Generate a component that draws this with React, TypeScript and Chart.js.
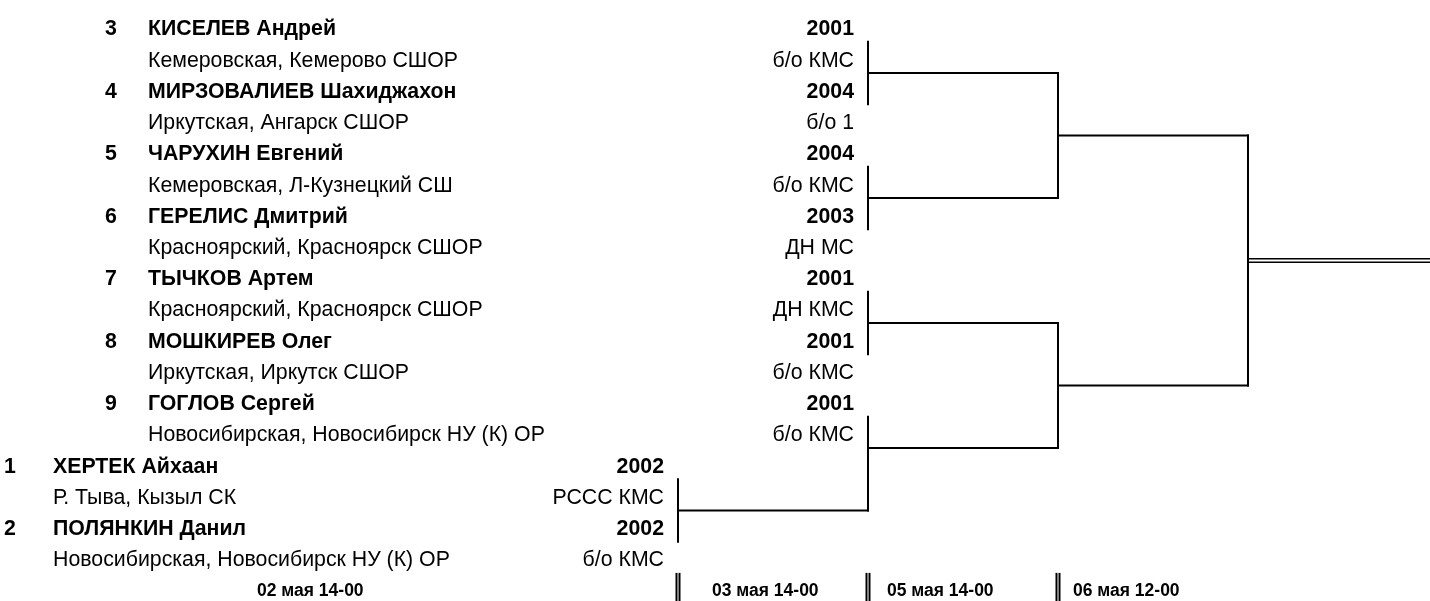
import React, { useEffect, useRef } from "react";
import { Chart, registerables } from "chart.js";

Chart.register(...registerables);

// ---- data ----
const seeds = [3, 4, 5, 6, 7, 8, 9, 1, 2];
const names = [
  "КИСЕЛЕВ Андрей",
  "МИРЗОВАЛИЕВ Шахиджахон",
  "ЧАРУХИН Евгений",
  "ГЕРЕЛИС Дмитрий",
  "ТЫЧКОВ Артем",
  "МОШКИРЕВ Олег",
  "ГОГЛОВ Сергей",
  "ХЕРТЕК Айхаан",
  "ПОЛЯНКИН Данил",
];
const clubs = [
  "Кемеровская, Кемерово СШОР",
  "Иркутская, Ангарск СШОР",
  "Кемеровская, Л-Кузнецкий СШ",
  "Красноярский, Красноярск СШОР",
  "Красноярский, Красноярск СШОР",
  "Иркутская, Иркутск СШОР",
  "Новосибирская, Новосибирск НУ (К) ОР",
  "Р. Тыва, Кызыл СК",
  "Новосибирская, Новосибирск НУ (К) ОР",
];
const years = ["2001", "2004", "2004", "2003", "2001", "2001", "2001", "2002", "2002"];
const ranks = ["б/о КМС", "б/о 1", "б/о КМС", "ДН МС", "ДН КМС", "б/о КМС", "б/о КМС", "РССС КМС", "б/о КМС"];
const entryRounds = [1, 1, 1, 1, 1, 1, 1, 0, 0];
const roundDates = ["02 мая 14-00", "03 мая 14-00", "05 мая 14-00", "06 мая 12-00"];
// bracket: round of each bout and its two inputs (p = player index, m = bout index)
const boutRounds = [1, 1, 1, 0, 1, 2, 2, 3];
const boutA = ["p0", "p2", "p4", "p7", "p6", "m0", "m2", "m5"];
const boutB = ["p1", "p3", "p5", "p8", "m3", "m1", "m4", "m6"];

// ---- layout ----
const W = 1430;
const H = 601;
const FONT = '"Liberation Sans", Arial, sans-serif';
const MAIN_SIZE = 21.3;
const DATE_SIZE = 17.5;
const TEXT_LEFT = [53, 148];
const NUM_CENTER = [10, 111];
const DATE_LEFT = [257, 712, 887, 1073];

function buildBracket() {
  const playerRow = (i: number) => 2 * i + 0.5;
  const outs: number[] = [];
  const segs: { x: number; y: number }[][] = [];
  let finalOut = { r: 0, y: 0 };
  const resolve = (ref: string) => {
    const idx = parseInt(ref.slice(1), 10);
    return ref[0] === "p" ? playerRow(idx) : outs[idx];
  };
  boutRounds.forEach((r, m) => {
    const ya = resolve(boutA[m]);
    const yb = resolve(boutB[m]);
    const out = Math.floor((ya + yb) / 2 - 0.5) + 0.5;
    outs.push(out);
    segs.push([
      { x: r, y: ya },
      { x: r, y: yb },
    ]);
    if (m === boutRounds.length - 1) {
      finalOut = { r, y: out };
    } else {
      segs.push([
        { x: r, y: out },
        { x: r + 1, y: out },
      ]);
    }
  });
  return { segs, finalOut };
}

export default function App() {
  const ref = useRef<HTMLCanvasElement | null>(null);

  useEffect(() => {
    document.body.style.margin = "0";
    const canvas = ref.current;
    if (!canvas) return;
    const { segs, finalOut } = buildBracket();

    const textPlugin = {
      id: "bracketText",
      afterDatasetsDraw(chart: any) {
        const ctx: CanvasRenderingContext2D = chart.ctx;
        const xs = chart.scales.x;
        const ys = chart.scales.y;
        const yMid = (row: number) => ys.getPixelForValue(row) + 1.5;
        ctx.save();
        ctx.fillStyle = "#000";
        ctx.strokeStyle = "#000";
        const put = (t: string, x: number, row: number, size: number, bold: boolean, align: CanvasTextAlign) => {
          ctx.font = `${bold ? "bold " : ""}${size}px ${FONT}`;
          ctx.textAlign = align;
          ctx.textBaseline = "alphabetic";
          ctx.fillText(t, x, yMid(row) + size * 0.358);
        };
        seeds.forEach((s, i) => {
          const r = entryRounds[i];
          const rightEdge = xs.getPixelForValue(r) - 14;
          put(String(s), NUM_CENTER[r], 2 * i, MAIN_SIZE, true, "center");
          put(names[i], TEXT_LEFT[r], 2 * i, MAIN_SIZE, true, "left");
          put(years[i], rightEdge, 2 * i, MAIN_SIZE, true, "right");
          put(clubs[i], TEXT_LEFT[r], 2 * i + 1, MAIN_SIZE, false, "left");
          put(ranks[i], rightEdge, 2 * i + 1, MAIN_SIZE, false, "right");
        });
        const dateRow = 2 * seeds.length;
        roundDates.forEach((d, k) => {
          put(d, DATE_LEFT[k], dateRow, DATE_SIZE, true, "left");
        });
        // double markers between date columns
        ctx.lineWidth = 2;
        for (let r = 0; r < roundDates.length - 1; r++) {
          const px = Math.round(xs.getPixelForValue(r));
          const top = ys.getPixelForValue(dateRow - 0.5);
          [px - 1.5, px + 1.5].forEach((x) => {
            ctx.beginPath();
            ctx.moveTo(x, top);
            ctx.lineTo(x, H);
            ctx.stroke();
          });
        }
        // double line after the final
        const fx = xs.getPixelForValue(finalOut.r);
        const fy = ys.getPixelForValue(finalOut.y);
        ctx.lineWidth = 1.6;
        [fy - 1.7, fy + 1.7].forEach((y) => {
          ctx.beginPath();
          ctx.moveTo(fx, y);
          ctx.lineTo(W, y);
          ctx.stroke();
        });
        ctx.restore();
      },
    };

    const chart = new Chart(canvas, {
      type: "scatter",
      data: {
        datasets: segs.map((s) => ({
          data: s,
          showLine: true,
          borderColor: "#000",
          borderWidth: 2,
          borderCapStyle: "square" as const,
          pointRadius: 0,
          fill: false,
        })),
      },
      options: {
        animation: false,
        responsive: false,
        maintainAspectRatio: false,
        devicePixelRatio: 1,
        events: [],
        layout: { padding: 0 },
        plugins: { legend: { display: false }, tooltip: { enabled: false } },
        scales: {
          x: { type: "linear", min: -3.5684, max: 3.9579, display: false },
          y: { type: "linear", min: -0.84, max: 18.4, reverse: true, display: false },
        },
      },
      plugins: [textPlugin],
    });
    return () => chart.destroy();
  }, []);

  return (
    <div style={{ width: W, height: H, background: "#fff" }}>
      <canvas ref={ref} width={W} height={H} style={{ display: "block" }} />
    </div>
  );
}
